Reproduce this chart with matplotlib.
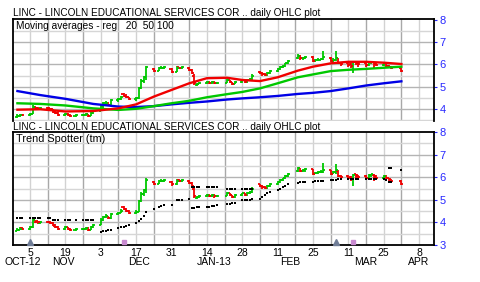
import numpy as np
import pandas as pd
import matplotlib
matplotlib.use("Agg")
import matplotlib.pyplot as plt
import matplotlib.dates as mdates

plt.rcParams["font.family"] = ["Liberation Sans", "DejaVu Sans"]

# trading days, Oct 31 2012 - Apr 1 2013
holidays = ["2012-11-22", "2012-12-25", "2013-01-01", "2013-01-21", "2013-02-18", "2013-03-29"]
days = pd.bdate_range("2012-10-31", "2013-04-01", freq="C", holidays=holidays)

# one line per week
opens = [3.62, 3.68, 3.74,
         3.70, 3.78, 4.10, 4.04, 3.98,
         4.03, 4.02, 3.98, 3.88, 3.80,
         3.70, 3.78, 3.72, 3.66,
         3.70, 3.72, 3.76, 3.68, 3.80,
         3.90, 4.12, 4.25, 4.28, 4.18,
         4.38, 4.42, 4.68, 4.60, 4.52,
         4.42, 4.48, 4.95, 5.25, 5.42,
         5.80, 5.72, 5.82, 5.85,
         5.80, 5.68, 5.88, 5.82,
         5.85, 5.75, 5.50, 5.08, 5.12,
         5.18, 5.22, 5.18, 5.20, 5.15,
         5.18, 5.30, 5.20, 5.12,
         5.20, 5.28, 5.22, 5.30, 5.33,
         5.68, 5.60, 5.55, 5.52, 5.62,
         5.70, 5.78, 5.88, 5.95, 6.05,
         6.28, 6.40, 6.28, 6.30,
         6.35, 6.15, 6.20, 6.22, 6.25,
         6.30, 6.15, 6.22, 6.28, 6.05,
         6.05, 6.00, 5.92, 6.12, 6.08,
         6.05, 5.98, 6.10, 6.10, 6.05,
         5.98, 6.05, 5.95, 5.90,
         5.85]
highs = [3.75, 3.78, 3.78,
         3.82, 4.15, 4.12, 4.08, 4.08,
         4.08, 4.05, 4.00, 3.92, 3.85,
         3.82, 3.80, 3.75, 3.76,
         3.76, 3.80, 3.78, 3.84, 3.95,
         4.18, 4.30, 4.35, 4.30, 4.42,
         4.48, 4.58, 4.72, 4.65, 4.55,
         4.55, 5.00, 5.35, 5.50, 5.95,
         5.82, 5.88, 5.92, 5.92,
         5.82, 5.92, 5.90, 5.92,
         5.88, 5.78, 5.55, 5.18, 5.22,
         5.26, 5.25, 5.24, 5.24, 5.22,
         5.35, 5.32, 5.22, 5.24,
         5.32, 5.30, 5.34, 5.40, 5.55,
         5.70, 5.64, 5.60, 5.66, 5.74,
         5.82, 5.92, 5.98, 6.08, 6.20,
         6.45, 6.42, 6.35, 6.40,
         6.38, 6.25, 6.28, 6.30, 6.62,
         6.32, 6.28, 6.60, 6.30, 6.10,
         6.10, 6.05, 6.15, 6.15, 6.10,
         6.10, 6.15, 6.16, 6.12, 6.08,
         6.10, 6.08, 5.98, 5.92,
         5.88]
lows = [3.60, 3.65, 3.66,
        3.68, 3.75, 3.98, 3.95, 3.95,
        3.96, 3.94, 3.82, 3.76, 3.66,
        3.66, 3.68, 3.62, 3.64,
        3.66, 3.68, 3.64, 3.66, 3.76,
        3.88, 4.05, 4.18, 4.15, 4.15,
        4.32, 4.40, 4.55, 4.48, 4.38,
        4.35, 4.45, 4.90, 5.15, 5.30,
        5.65, 5.70, 5.78, 5.80,
        5.62, 5.66, 5.78, 5.78,
        5.70, 5.55, 5.08, 5.05, 5.10,
        5.12, 5.14, 5.12, 5.10, 5.12,
        5.15, 5.16, 5.08, 5.10,
        5.16, 5.18, 5.18, 5.26, 5.30,
        5.55, 5.50, 5.48, 5.50, 5.58,
        5.66, 5.75, 5.84, 5.90, 6.02,
        6.25, 6.22, 6.22, 6.25,
        6.10, 6.12, 6.15, 6.18, 6.20,
        6.10, 6.12, 6.15, 6.00, 5.95,
        5.90, 5.85, 5.62, 5.98, 5.90,
        5.90, 5.95, 6.02, 5.85, 5.92,
        5.94, 5.88, 5.82, 5.78,
        5.65]
closes = [3.68, 3.72, 3.70,
          3.78, 4.10, 4.02, 4.00, 4.03,
          4.00, 3.98, 3.85, 3.80, 3.70,
          3.78, 3.72, 3.66, 3.72,
          3.72, 3.76, 3.68, 3.80, 3.90,
          4.12, 4.25, 4.28, 4.18, 4.38,
          4.42, 4.52, 4.60, 4.52, 4.42,
          4.48, 4.95, 5.25, 5.42, 5.88,
          5.72, 5.82, 5.85, 5.88,
          5.68, 5.85, 5.82, 5.88,
          5.75, 5.60, 5.15, 5.12, 5.18,
          5.22, 5.18, 5.20, 5.15, 5.18,
          5.30, 5.20, 5.12, 5.20,
          5.28, 5.22, 5.30, 5.33, 5.50,
          5.60, 5.55, 5.52, 5.62, 5.70,
          5.78, 5.88, 5.95, 6.05, 6.15,
          6.40, 6.28, 6.30, 6.35,
          6.15, 6.20, 6.22, 6.25, 6.32,
          6.15, 6.22, 6.30, 6.05, 6.02,
          5.98, 5.92, 6.10, 6.05, 6.00,
          5.98, 6.10, 6.12, 6.00, 5.98,
          6.05, 5.95, 5.88, 5.82,
          5.70]

N = None
trend_upper = [4.20, 4.20, 4.20,
               4.20, 4.20, 4.20, 4.20, 4.20,
               4.20, 4.20, 4.12, 4.12, 4.12,
               4.12, 4.12, 4.12, 4.12,
               4.12, 4.12, 4.12, 4.12, 4.12,
               N, N, N, N, N,
               N, N, N, N, N,
               N, N, N, N, N,
               N, N, N, N,
               N, N, N, N,
               N, 5.55, 5.55, 5.55, 5.55,
               5.55, 5.55, 5.55, 5.55, 5.55,
               5.50, 5.50, 5.50, 5.50,
               5.50, 5.50, 5.50, 5.50, 5.50,
               N, N, N, N, N,
               N, N, N, N, N,
               N, N, N, N,
               N, N, N, N, N,
               N, N, N, N, N,
               N, N, N, N, N,
               N, N, N, N, N,
               N, N, 6.42, 6.42,
               6.32]
trend_lower = [N, N, N,
               N, N, N, N, N,
               N, N, N, N, N,
               N, N, N, N,
               N, N, N, N, N,
               3.58, 3.60, 3.62, 3.65, 3.68,
               3.75, 3.78, 3.80, 3.85, 3.90,
               3.98, 4.05, 4.15, 4.30, 4.45,
               4.60, 4.70, 4.72, 4.75,
               4.78, 4.98, 5.00, 5.00,
               5.02, 4.65, 4.65, 4.66, 4.68,
               4.70, 4.70, 4.72, 4.72, 4.75,
               4.80, 4.82, 4.85, 4.85,
               4.98, 5.00, 5.00, 5.00, 5.02,
               5.05, 5.12, 5.20, 5.28, 5.35,
               5.45, 5.50, 5.55, 5.62, 5.68,
               5.75, 5.78, 5.78, 5.80,
               5.80, 5.82, 5.82, 5.85, 5.85,
               5.88, 5.88, 5.88, 5.90, 5.90,
               5.90, 5.90, 5.90, 5.90, 5.90,
               5.90, 5.90, 5.90, 5.90, 5.90,
               5.92, 5.88, 5.80, 5.80,
               N]

# moving averages read weekly
ma_dates = pd.to_datetime(["2012-10-31", "2012-11-09", "2012-11-19", "2012-11-30", "2012-12-10",
                           "2012-12-17", "2012-12-24", "2012-12-31", "2013-01-07", "2013-01-14",
                           "2013-01-22", "2013-01-28", "2013-02-04", "2013-02-11", "2013-02-19",
                           "2013-02-25", "2013-03-04", "2013-03-11", "2013-03-18", "2013-03-25",
                           "2013-04-01"])
ma20 = [3.96, 3.98, 3.88, 3.90, 4.02, 4.20, 4.55, 4.85, 5.15, 5.38, 5.40,
        5.30, 5.25, 5.42, 5.72, 5.90, 6.05, 6.12, 6.12, 6.08, 6.02]
ma50 = [4.25, 4.22, 4.15, 4.02, 3.95, 4.00, 4.12, 4.25, 4.36, 4.52, 4.66,
        4.76, 4.92, 5.15, 5.42, 5.55, 5.70, 5.76, 5.80, 5.85, 5.90]
ma100 = [4.80, 4.62, 4.45, 4.22, 4.10, 4.08, 4.12, 4.20, 4.27, 4.33, 4.42,
         4.47, 4.52, 4.58, 4.67, 4.72, 4.80, 4.92, 5.05, 5.15, 5.24]

tick_days = pd.to_datetime(["2012-11-05", "2012-11-19", "2012-12-03", "2012-12-17", "2012-12-31",
                            "2013-01-14", "2013-01-28", "2013-02-11", "2013-02-25", "2013-03-11",
                            "2013-03-25", "2013-04-08"])
tick_labels = ["5", "19", "3", "17", "31", "14", "28", "11", "25", "11", "25", "8"]
month_labels = ["OCT-12", "NOV", "DEC", "JAN-13", "FEB", "MAR", "APR"]
month_days = pd.to_datetime(["2012-11-02", "2012-11-18", "2012-12-18", "2013-01-17",
                             "2013-02-16", "2013-03-18", "2013-04-08"])
event_a = pd.to_datetime(["2012-11-05", "2013-03-06"])
event_b = pd.to_datetime(["2012-12-12", "2013-03-13"])

title = "LINC - LINCOLN EDUCATIONAL SERVICES COR .. daily OHLC plot"

x = mdates.date2num(days)
o = np.array(opens)
h = np.array(highs)
l = np.array(lows)
c = np.array(closes)
up = np.array(trend_upper, dtype=float)
lo = np.array(trend_lower, dtype=float)
bar_colors = np.where(c >= o, "#00c800", "#f00000")

fig = plt.figure(figsize=(4.8, 2.82), dpi=100)
ax1 = fig.add_axes([13 / 480, 1 - 121 / 282, 421 / 480, 102 / 282])
ax2 = fig.add_axes([13 / 480, 37 / 282, 421 / 480, 113 / 282])

xmin = mdates.date2num(pd.Timestamp("2012-10-29 06:00"))
xmax = mdates.date2num(pd.Timestamp("2013-04-13 22:00"))
weeks = pd.date_range("2012-10-29", "2013-04-08", freq="7D")

for ax, ylim, yt in ((ax1, (3.45, 8.05), [4, 5, 6, 7, 8]), (ax2, (3.0, 8.0), [3, 4, 5, 6, 7, 8])):
    for i, w in enumerate(weeks):
        ax.axvline(mdates.date2num(w), color="#a8a8a8" if i % 2 == 0 else "#d2d2d2", lw=1.0, zorder=0)
    for v in np.arange(3.5, 8.0, 0.5):
        ax.axhline(v, color="#b4b4b4" if v == int(v) else "#d6d6d6", lw=1.0, zorder=0)
    ax.vlines(x, l, h, colors=bar_colors, lw=1.3, zorder=2)
    ax.hlines(o, x - 0.8, x, colors=bar_colors, lw=1.3, zorder=2)
    ax.hlines(c, x, x + 0.8, colors=bar_colors, lw=1.3, zorder=2)
    ax.set_xlim(xmin, xmax)
    ax.set_ylim(*ylim)
    ax.set_xticks([])
    ax.yaxis.tick_right()
    ax.set_yticks(yt)
    ax.tick_params(axis="y", colors="#2828ff", labelsize=8, length=2, pad=2)
    for s in ax.spines.values():
        s.set_linewidth(1.3)

ax1.spines["bottom"].set_visible(False)

md = mdates.date2num(ma_dates)
ax1.plot(md, ma100, color="#0000e6", lw=1.7, zorder=3)
ax1.plot(md, ma50, color="#00c800", lw=1.7, zorder=3)
ax1.plot(md, ma20, color="#f00000", lw=1.7, zorder=3)
ax1.text(0.008, 0.985, "Moving averages - reg   20  50 100", transform=ax1.transAxes,
         fontsize=7.3, va="top", ha="left")

ax2.plot(x, up, "s", color="black", ms=1.8, mew=0, zorder=3)
ax2.plot(x, lo, "s", color="black", ms=1.8, mew=0, zorder=3)
ax2.text(0.008, 0.985, "Trend Spotter (tm)", transform=ax2.transAxes,
         fontsize=7.8, va="top", ha="left")

tr = ax2.get_xaxis_transform()
ax2.plot(mdates.date2num(event_a), [0.025] * len(event_a), "^", color="#6f7c96", ms=4,
         transform=tr, clip_on=False, zorder=4)
ax2.plot(mdates.date2num(event_b), [0.025] * len(event_b), "s", color="#c88ad0", ms=3.5,
         transform=tr, clip_on=False, zorder=4)

for d, t in zip(tick_days, tick_labels):
    ax2.text(mdates.date2num(d), -0.07, t, transform=tr, fontsize=7.5, ha="center", va="center")
for d, t in zip(month_days, month_labels):
    ax2.text(mdates.date2num(d), -0.15, t, transform=tr, fontsize=7.5, ha="center", va="center")

fig.text(13 / 480, 1 - 13 / 282, title, fontsize=7.2, ha="left", va="center")
fig.text(13 / 480, 1 - 127 / 282, title, fontsize=7.2, ha="left", va="center")

fig.savefig("out.png", dpi=100)
